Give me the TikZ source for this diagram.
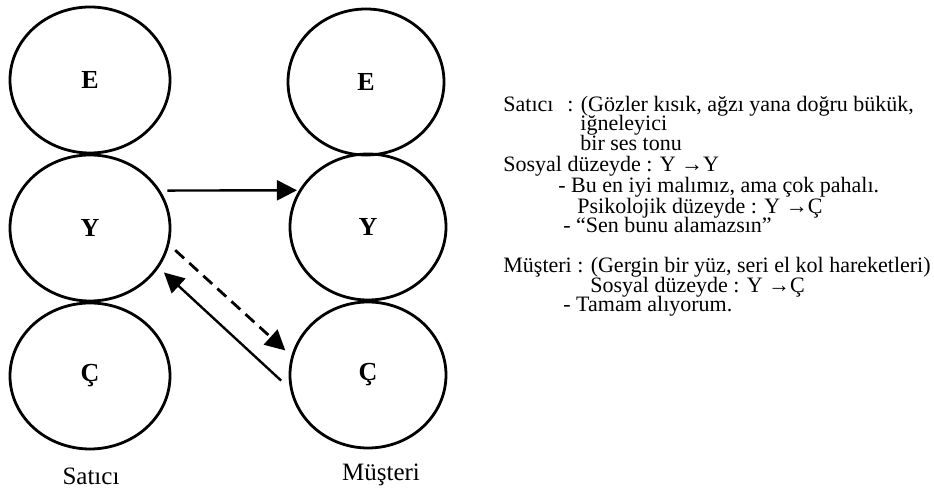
\documentclass[tikz,border=0pt]{standalone}
\usepackage{tikz}
\usepackage{fontspec}
\setmainfont{Liberation Serif}
\usetikzlibrary{shapes.geometric, arrows.meta}
\newcommand{\egoW}{80pt}
\newcommand{\egoH}{73pt}
\newcommand{\txtsize}{\fontsize{11}{10}\selectfont}

\begin{document}
\begin{tikzpicture}[x=0.5pt, y=-0.5pt, >={Triangle[length=10pt, width=10pt]},
    ego/.style={ellipse, draw, line width=1.4pt, inner sep=0pt, minimum width=\egoW, minimum height=\egoH, font=\fontsize{13}{15}\selectfont\bfseries},
    txt/.style={anchor=base west, inner sep=0pt, text height=7pt, text depth=1.5pt, font=\txtsize},
    msg/.style={->, line width=1.2pt}]
    \useasboundingbox (0, 0) rectangle (934, 490);

    % ego states
    \node [ego] (satE) at (90, 80) {E};
    \node [ego] (satY) at (90, 228) {Y};
    \node [ego] (satC) at (90, 376) {Ç};
    \node [ego, minimum width=78pt] (musE) at (366, 82) {E};
    \node [ego, minimum width=78pt] (musY) at (368, 227) {Y};
    \node [ego, minimum width=78pt] (musC) at (368, 375) {Ç};

    \node [anchor=base, font=\fontsize{12.5}{14}\selectfont] (satLbl) at (91, 485) {Satıcı};
    \node [anchor=base, font=\fontsize{12.5}{14}\selectfont] (musLbl) at (381, 481) {Müşteri};

    % transactions
    \draw [msg, shorten <=3.5pt, shorten >=1pt] (satY.28) -- (musY.152);
    \draw [msg, dash pattern=on 6pt off 3.5pt, line width=1.4pt, shorten <=4pt, shorten >=4pt] (satY.-12) -- (musC.166);
    \draw [msg, shorten <=6pt, shorten >=3.5pt] (musC.190) -- (satY.-30);

    % notes
    \node [txt] (n1a) at (503, 112) {Satıcı};
    \node [txt] (n1b) at (567, 112) {: (Gözler kısık, ağzı yana doğru bükük,};
    \node [txt] (n2) at (580, 131) {iğneleyici};
    \node [txt] (n3) at (580, 151) {bir ses tonu};
    \node [txt] (n4) at (503, 172) {Sosyal düzeyde : Y →Y};
    \node [txt] (n5) at (558, 193) {- Bu en iyi malımız, ama çok pahalı.};
    \node [txt] (n6) at (577, 214) {Psikolojik düzeyde : Y →Ç};
    \node [txt] (n7) at (563, 233) {- “Sen bunu alamazsın”};
    \node [txt] (n8) at (503, 273) {Müşteri : (Gergin bir yüz, seri el kol hareketleri)};
    \node [txt] (n9) at (590, 293) {Sosyal düzeyde : Y →Ç};
    \node [txt] (n10) at (563, 312) {- Tamam alıyorum.};
\end{tikzpicture}
\end{document}
